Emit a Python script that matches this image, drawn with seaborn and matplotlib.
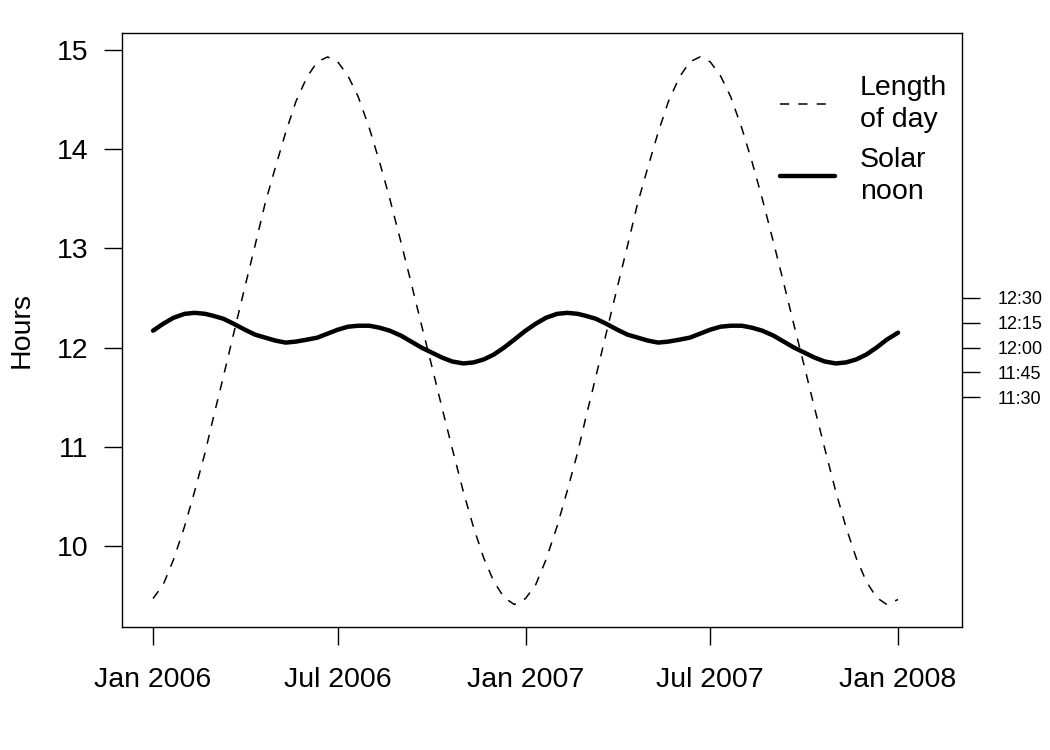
import numpy as np
import pandas as pd
import matplotlib
matplotlib.use("Agg")
import matplotlib.pyplot as plt
import matplotlib.dates as mdates
import seaborn as sns
from matplotlib.lines import Line2D

# ---- data ----
month_days = ["01-01", "01-11", "01-21", "02-01", "02-11", "02-21",
              "03-01", "03-11", "03-21", "04-01", "04-11", "04-21",
              "05-01", "05-11", "05-21", "06-01", "06-11", "06-21",
              "07-01", "07-11", "07-21", "08-01", "08-11", "08-21",
              "09-01", "09-11", "09-21", "10-01", "10-11", "10-21",
              "11-01", "11-11", "11-21", "12-01", "12-11", "12-21"]
years = [2006, 2007]
end_date = "2008-01-01"

day_len_2006 = [9.47, 9.61, 9.86, 10.20, 10.56, 10.94,
                11.29, 11.71, 12.14, 12.61, 13.03, 13.46,
                13.82, 14.17, 14.48, 14.73, 14.88, 14.93,
                14.88, 14.74, 14.53, 14.21, 13.87, 13.50,
                13.06, 12.65, 12.23, 11.82, 11.40, 10.99,
                10.55, 10.19, 9.88, 9.64, 9.48, 9.41]
day_len_2007 = [9.47, 9.61, 9.86, 10.20, 10.56, 10.94,
                11.29, 11.71, 12.14, 12.61, 13.03, 13.46,
                13.82, 14.17, 14.48, 14.73, 14.88, 14.93,
                14.88, 14.74, 14.53, 14.21, 13.87, 13.50,
                13.06, 12.65, 12.23, 11.82, 11.40, 10.99,
                10.55, 10.19, 9.88, 9.64, 9.48, 9.41]
day_len_end = 9.46

noon_2006 = [12.17, 12.24, 12.30, 12.34, 12.35, 12.34,
             12.32, 12.29, 12.24, 12.18, 12.13, 12.10,
             12.07, 12.05, 12.06, 12.08, 12.10, 12.14,
             12.18, 12.21, 12.22, 12.22, 12.20, 12.17,
             12.12, 12.06, 12.00, 11.95, 11.90, 11.86,
             11.84, 11.85, 11.88, 11.93, 12.00, 12.08]
noon_2007 = [12.17, 12.24, 12.30, 12.34, 12.35, 12.34,
             12.32, 12.29, 12.24, 12.18, 12.13, 12.10,
             12.07, 12.05, 12.06, 12.08, 12.10, 12.14,
             12.18, 12.21, 12.22, 12.22, 12.20, 12.17,
             12.12, 12.06, 12.00, 11.95, 11.90, 11.86,
             11.84, 11.85, 11.88, 11.93, 12.00, 12.08]
noon_end = 12.15

x_tick_dates = ["2006-01-01", "2006-07-01", "2007-01-01", "2007-07-01", "2008-01-01"]
x_tick_labels = ["Jan 2006", "Jul 2006", "Jan 2007", "Jul 2007", "Jan 2008"]
y_ticks = [10, 11, 12, 13, 14, 15]
right_ticks = [11.5, 11.75, 12.0, 12.25, 12.5]
right_labels = ["11:30", "11:45", "12:00", "12:15", "12:30"]

dates = [pd.Timestamp(f"{y}-{md}") for y in years for md in month_days] + [pd.Timestamp(end_date)]
df = pd.DataFrame({
    "date": dates,
    "length": day_len_2006 + day_len_2007 + [day_len_end],
    "noon": noon_2006 + noon_2007 + [noon_end],
})

# ---- style ----
sns.set_style("ticks")
plt.rcParams["font.family"] = ["Liberation Sans", "DejaVu Sans"]
plt.rcParams["axes.linewidth"] = 1.0
for key in ["text.color", "axes.labelcolor", "xtick.color", "ytick.color", "axes.edgecolor"]:
    plt.rcParams[key] = "black"

fig = plt.figure(figsize=(10.5, 7.5), dpi=100)
ax = fig.add_axes([122/1050, 1 - 627/750, (962 - 122)/1050, (627 - 33)/750])

sns.lineplot(data=df, x="date", y="length", ax=ax, color="black", lw=1.1,
             dashes=False, linestyle=(0, (6, 6)))
sns.lineplot(data=df, x="date", y="noon", ax=ax, color="black", lw=3.2,
             solid_capstyle="round", solid_joinstyle="round")

start = mdates.date2num(pd.Timestamp("2006-01-01"))
stop = mdates.date2num(pd.Timestamp("2008-01-01"))
ax.set_xlim(start - 30.4, stop + 62.7)
ax.set_ylim(9.183, 15.171)

ax.set_xticks([mdates.date2num(pd.Timestamp(d)) for d in x_tick_dates])
ax.set_xticklabels(x_tick_labels)
ax.set_yticks(y_ticks)
ax.set_yticklabels([str(v) for v in y_ticks])
ax.tick_params(axis="both", direction="out", length=13, width=1.0, colors="black",
               labelsize=20.5)
ax.tick_params(axis="x", pad=16)
ax.tick_params(axis="y", pad=11)
ax.set_xlabel("")
ax.set_ylabel("Hours", fontsize=20.5, labelpad=16, color="black")
for s in ax.spines.values():
    s.set_visible(True)
    s.set_color("black")

ax2 = ax.twinx()
ax2.set_ylim(ax.get_ylim())
ax2.set_yticks(right_ticks)
ax2.set_yticklabels(right_labels)
ax2.tick_params(axis="y", direction="out", length=13, width=1.0, labelsize=13, pad=13,
                colors="black")
for s in ax2.spines.values():
    s.set_visible(False)

handles = [Line2D([], [], color="black", lw=1.1, linestyle=(0, (6, 6))),
           Line2D([], [], color="black", lw=3.2)]
leg = ax.legend(handles, ["Length\nof day", "Solar\nnoon"], loc="upper left",
                bbox_to_anchor=((780 - 122) / 840, 1 - (75 - 33) / 594), frameon=False,
                fontsize=20.5, handlelength=1.93, handletextpad=0.88, labelspacing=0.5,
                borderpad=0, borderaxespad=0, labelcolor="black")
for t in leg.get_texts():
    t.set_linespacing(1.3)

fig.savefig("out.png", dpi=100)
